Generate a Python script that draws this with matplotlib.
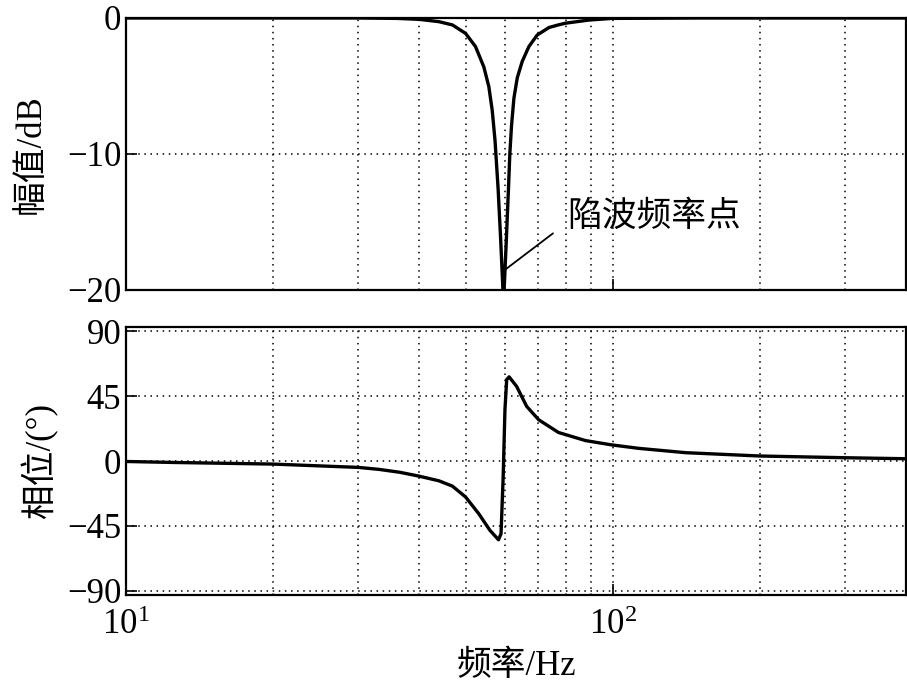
import numpy as np
import matplotlib
matplotlib.use('Agg')
import matplotlib.pyplot as plt
from matplotlib.ticker import LogLocator, NullFormatter, FixedLocator

plt.rcParams['font.family'] = ['Liberation Serif', 'Noto Sans CJK SC']
plt.rcParams['mathtext.fontset'] = 'stix'
plt.rcParams['axes.unicode_minus'] = True

# magnitude curve (Hz, dB)
mag_freq = [10, 30, 36, 40.0, 43.9, 46.8, 49.8, 52.2, 54.3, 55.6, 56.5, 57.25, 58.1, 58.8, 59.4,
            59.6, 59.8, 60.4, 61.0, 61.4, 61.9, 62.6, 63.6, 65.1, 67.2, 69.9, 73.9, 77.4, 80.0,
            89.3, 99.7, 150, 400]
mag_db = [0, 0, -0.03, -0.1, -0.27, -0.51, -1.13, -2.1, -3.6, -5.05, -6.8, -9.0, -12.6, -16.3, -19.8,
          -22, -19.8, -16.3, -12.6, -10.0, -7.9, -5.9, -4.4, -3.2, -2.1, -1.25, -0.7, -0.5, -0.38,
          -0.15, -0.03, 0, 0]

# phase curve (Hz, deg)
ph_freq = [10, 12.6, 20, 30, 33.1, 36.5, 40, 43.9, 46.8, 49.8, 53, 55.9, 58.2, 58.9, 59.5, 60.0,
           60.5, 61.2, 63.4, 66.5, 70.4, 77.3, 87.8, 99.4, 113, 141, 200, 300, 400]
ph_deg = [-0.3, -1.0, -2.1, -4.4, -5.8, -7.8, -10.5, -13.7, -17.4, -24.9, -36.5, -48.1, -54.6, -50.4,
          -10.9, 35.6, 56.5, 58.4, 51.8, 37.9, 28.6, 19.8, 14.2, 11.2, 8.8, 5.8, 3.5, 2.3, 1.6]

mag_ticks = [-20, -10, 0]
ph_ticks = [-90, -45, 0, 45, 90]

fig = plt.figure(figsize=(9.07, 6.92), dpi=100)
ax1 = fig.add_axes([0.139, 0.581, 0.86, 0.393])
ax2 = fig.add_axes([0.139, 0.140, 0.86, 0.3875], sharex=ax1)

ax1.plot(mag_freq, mag_db, color='black', lw=2.4, solid_joinstyle='round')
ax2.plot(ph_freq, ph_deg, color='black', lw=2.4, solid_joinstyle='round')

for ax in (ax1, ax2):
    ax.set_xscale('log')
    ax.set_xlim(10, 400)
    ax.xaxis.set_major_locator(LogLocator(base=10))
    ax.xaxis.set_minor_locator(LogLocator(base=10, subs=np.arange(2, 10)))
    ax.xaxis.set_minor_formatter(NullFormatter())
    ax.grid(True, which='both', axis='x', color='black', linestyle=(0, (1, 3)), lw=1.1)
    ax.grid(True, which='major', axis='y', color='black', linestyle=(0, (1, 3)), lw=1.1)
    ax.tick_params(which='both', direction='in', labelsize=25, length=8, width=1.2,
                   top=False, right=False)
    ax.tick_params(which='minor', length=0)
    for s in ax.spines.values():
        s.set_linewidth(1.6)

ax1.set_ylim(-20, 0)
ax1.yaxis.set_major_locator(FixedLocator(mag_ticks))
ax1.tick_params(labelbottom=False)
ax1.set_ylabel('幅值/dB', fontsize=25, labelpad=14)

ax2.set_ylim(-93, 93)
ax2.yaxis.set_major_locator(FixedLocator(ph_ticks))
ax2.set_ylabel('相位/(°)', fontsize=25, labelpad=6)
ax2.set_xlabel('频率/Hz', fontsize=25, labelpad=6)
ax2.tick_params(axis='x', pad=10)

ax1.annotate('陷波频率点', xy=(60.1, -18.5), xytext=(80.4, -14.7),
             fontsize=25, ha='left', va='center',
             arrowprops=dict(arrowstyle='-', color='black', lw=1.3,
                             relpos=(0, 0.35), shrinkA=10, shrinkB=0))

fig.savefig('out.png', dpi=100)
